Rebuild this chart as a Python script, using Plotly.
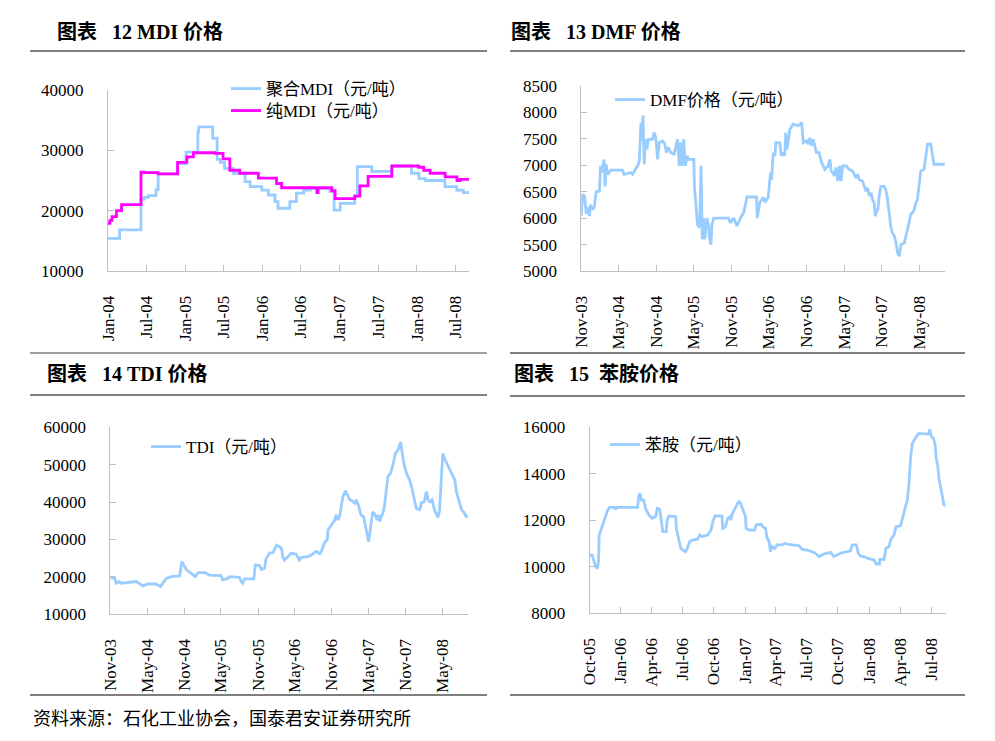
import plotly.graph_objects as go

# ---- data ----
mdi_poly_dates = [
    '2004-01-01', '2004-02-25', '2004-06-05', '2004-06-20', '2004-07-10', '2004-08-15',
    '2004-08-25', '2004-11-25', '2005-01-04', '2005-03-01', '2005-03-05', '2005-05-10',
    '2005-05-31', '2005-06-15', '2005-07-05', '2005-08-15', '2005-10-10', '2005-11-03',
    '2005-12-28', '2006-01-28', '2006-03-01', '2006-03-15', '2006-05-10', '2006-06-10',
    '2006-07-15', '2006-08-15', '2006-11-15', '2006-12-05', '2007-01-03', '2007-03-12',
    '2007-03-25', '2007-06-01', '2007-09-04', '2007-12-06', '2008-01-10', '2008-02-10',
    '2008-05-12', '2008-07-07', '2008-08-07', '2008-09-03',
]
mdi_poly_values = [
    15400, 16800, 21900, 22200, 22500, 23500,
    26100, 27800, 29700, 33100, 33900, 32000,
    28500, 28000, 27000, 26200, 24800, 24000,
    23400, 22600, 21500, 20400, 21500, 22900,
    23400, 23700, 23200, 20100, 21200, 22500,
    27300, 26500, 27400, 26200, 25300, 25000,
    24000, 23400, 23000, 23000,
]

mdi_pure_dates = [
    '2004-01-01', '2004-01-10', '2004-01-20', '2004-02-10', '2004-03-05', '2004-06-05',
    '2004-06-20', '2004-08-25', '2004-11-25', '2005-01-08', '2005-02-08', '2005-05-20',
    '2005-06-28', '2005-07-30', '2005-09-15', '2005-12-12', '2006-03-08', '2006-04-01',
    '2006-09-15', '2006-09-20', '2006-11-24', '2006-12-10', '2007-03-13', '2007-04-06',
    '2007-05-15', '2007-09-04', '2008-01-09', '2008-02-02', '2008-03-03', '2008-05-13',
    '2008-07-08', '2008-07-23', '2008-09-03',
]
mdi_pure_values = [
    17900, 18400, 19000, 20000, 21000, 26400,
    26300, 26100, 28000, 28900, 29600, 29500,
    28600, 26700, 26200, 25400, 24500, 23800,
    23000, 23800, 23300, 22000, 22400, 24100,
    25700, 27400, 27200, 26700, 26200, 25600,
    25000, 25200, 25200,
]

dmf_dates = [
    '2003-11-01', '2003-11-07', '2003-11-17', '2003-11-25', '2003-12-03', '2003-12-11',
    '2003-12-15', '2003-12-27', '2004-01-04', '2004-01-12', '2004-01-28', '2004-02-03',
    '2004-02-09', '2004-02-19', '2004-02-25', '2004-03-01', '2004-03-08', '2004-03-16',
    '2004-03-24', '2004-05-19', '2004-05-27', '2004-06-29', '2004-07-07', '2004-08-01',
    '2004-08-09', '2004-08-17', '2004-08-22', '2004-08-27', '2004-09-02', '2004-09-07',
    '2004-09-15', '2004-09-21', '2004-10-12', '2004-10-20', '2004-10-28', '2004-11-06',
    '2004-11-14', '2004-11-30', '2004-12-11', '2004-12-19', '2004-12-27', '2005-01-09',
    '2005-01-25', '2005-02-11', '2005-02-19', '2005-02-27', '2005-03-05', '2005-03-13',
    '2005-03-21', '2005-03-29', '2005-04-07', '2005-05-01', '2005-05-04', '2005-05-13',
    '2005-05-19', '2005-05-29', '2005-06-05', '2005-06-11', '2005-06-18', '2005-06-23',
    '2005-07-04', '2005-07-12', '2005-07-17', '2005-07-23', '2005-07-28', '2005-08-06',
    '2005-10-17', '2005-10-25', '2005-11-11', '2005-11-27', '2005-12-13', '2005-12-29',
    '2006-01-15', '2006-03-02', '2006-03-05', '2006-03-18', '2006-04-04', '2006-04-12',
    '2006-04-28', '2006-05-02', '2006-05-09', '2006-05-14', '2006-05-22', '2006-05-30',
    '2006-06-04', '2006-06-23', '2006-07-01', '2006-07-09', '2006-07-17', '2006-07-22',
    '2006-07-28', '2006-08-11', '2006-08-27', '2006-09-21', '2006-10-07', '2006-10-15',
    '2006-10-31', '2006-11-08', '2006-11-16', '2006-11-24', '2006-12-02', '2006-12-10',
    '2006-12-18', '2006-12-31', '2007-01-12', '2007-01-20', '2007-01-28', '2007-02-13',
    '2007-02-21', '2007-02-28', '2007-03-07', '2007-03-15', '2007-03-23', '2007-04-01',
    '2007-04-09', '2007-04-17', '2007-04-25', '2007-05-11', '2007-05-27', '2007-06-12',
    '2007-06-28', '2007-07-06', '2007-07-14', '2007-07-30', '2007-08-08', '2007-08-16',
    '2007-08-24', '2007-09-01', '2007-09-09', '2007-09-17', '2007-09-25', '2007-09-30',
    '2007-10-06', '2007-10-13', '2007-10-19', '2007-10-27', '2007-11-12', '2007-11-20',
    '2007-11-28', '2007-12-06', '2007-12-14', '2007-12-22', '2008-01-01', '2008-01-09',
    '2008-01-17', '2008-01-25', '2008-02-02', '2008-02-18', '2008-02-26', '2008-03-04',
    '2008-03-12', '2008-03-20', '2008-03-28', '2008-04-06', '2008-04-14', '2008-04-22',
    '2008-04-30', '2008-05-08', '2008-05-24', '2008-06-02', '2008-06-10', '2008-06-26',
    '2008-07-03', '2008-07-11', '2008-09-02',
]
dmf_values = [
    6040, 6450, 6420, 6080, 6200, 6040,
    6250, 6160, 6220, 6500, 6510, 6990,
    6870, 7110, 6600, 7020, 6830, 6860,
    6910, 6910, 6830, 6860, 6830, 6990,
    7080, 7810, 7460, 7940, 7020, 7490,
    7300, 7490, 7490, 7620, 7520, 7110,
    7430, 7460, 7400, 7240, 7340, 7240,
    7210, 7490, 6990, 7430, 6990, 7490,
    6990, 7180, 7110, 7110, 6600, 6160,
    5880, 5820, 6990, 5600, 6000, 5600,
    6000, 5850, 5600, 5500, 5880, 6000,
    6000, 5910, 6000, 5850, 6000, 6100,
    6400, 6400, 6000, 6300, 6390, 6300,
    6400, 6580, 6860, 6730, 7240, 7180,
    7430, 7420, 7180, 7240, 7180, 7620,
    7300, 7680, 7780, 7750, 7810, 7430,
    7460, 7400, 7520, 7370, 7490, 7370,
    7240, 7240, 7050, 6990, 6920, 6990,
    7110, 6890, 6860, 6800, 6960, 6700,
    6990, 6700, 6990, 6990, 6920, 6890,
    6760, 6830, 6730, 6700, 6600, 6510,
    6570, 6420, 6480, 6350, 6290, 6040,
    6130, 6160, 6420, 6600, 6600, 6540,
    6380, 6040, 5850, 5720, 5660, 5530,
    5340, 5280, 5500, 5530, 5660, 5720,
    5910, 6070, 6100, 6160, 6290, 6350,
    6600, 6890, 6920, 7180, 7400, 7400,
    7180, 7020, 7020,
]

tdi_dates = [
    '2003-11-01', '2003-11-22', '2003-12-01', '2003-12-16', '2003-12-25', '2004-02-21',
    '2004-03-08', '2004-04-10', '2004-05-05', '2004-06-15', '2004-07-06', '2004-08-04',
    '2004-08-29', '2004-10-09', '2004-10-20', '2004-11-12', '2004-12-06', '2004-12-26',
    '2005-01-08', '2005-02-10', '2005-03-05', '2005-05-02', '2005-05-10', '2005-06-04',
    '2005-06-12', '2005-08-01', '2005-08-09', '2005-08-17', '2005-08-26', '2005-10-11',
    '2005-10-18', '2005-11-09', '2005-11-17', '2005-12-03', '2005-12-11', '2005-12-28',
    '2006-01-14', '2006-01-31', '2006-02-16', '2006-02-25', '2006-03-03', '2006-03-11',
    '2006-03-28', '2006-04-13', '2006-05-08', '2006-05-24', '2006-06-02', '2006-07-05',
    '2006-07-21', '2006-08-16', '2006-09-02', '2006-09-10', '2006-09-26', '2006-10-09',
    '2006-10-13', '2006-10-29', '2006-11-15', '2006-11-23', '2006-12-01', '2006-12-09',
    '2006-12-17', '2006-12-26', '2007-01-07', '2007-01-17', '2007-01-29', '2007-02-09',
    '2007-02-22', '2007-03-01', '2007-03-12', '2007-03-25', '2007-04-08', '2007-04-14',
    '2007-04-24', '2007-05-02', '2007-05-14', '2007-05-22', '2007-06-03', '2007-06-13',
    '2007-06-20', '2007-06-25', '2007-07-03', '2007-07-11', '2007-07-19', '2007-07-27',
    '2007-08-05', '2007-08-18', '2007-08-30', '2007-09-11', '2007-09-24', '2007-10-07',
    '2007-10-14', '2007-10-23', '2007-11-05', '2007-11-21', '2007-12-02', '2007-12-12',
    '2007-12-24', '2008-01-10', '2008-01-18', '2008-02-01', '2008-02-12', '2008-02-20',
    '2008-02-28', '2008-03-10', '2008-03-15', '2008-03-23', '2008-04-09', '2008-04-17',
    '2008-04-25', '2008-05-03', '2008-05-11', '2008-05-19', '2008-05-28', '2008-06-14',
    '2008-07-01', '2008-07-09', '2008-07-25', '2008-08-03', '2008-08-16', '2008-08-28',
    '2008-09-03',
]
tdi_values = [
    19700, 19700, 18300, 18700, 18300, 18500,
    18750, 17600, 18100, 18100, 17400, 19600,
    20050, 20250, 24100, 21900, 21000, 20050,
    21150, 21150, 20500, 20350, 19200, 19600,
    20050, 19900, 18750, 18300, 19450, 19450,
    23200, 23000, 22000, 22300, 25000, 26300,
    26500, 28500, 28000, 27600, 25400, 24500,
    25400, 26300, 26100, 24500, 25200, 25400,
    25800, 26800, 26200, 26800, 29200, 29900,
    32500, 33900, 35200, 36600, 35200, 36100,
    38800, 41500, 43000, 41900, 40600, 40400,
    39700, 40600, 39300, 36600, 36000, 34300,
    31700, 29400, 34300, 37400, 36600, 35200,
    36600, 34800, 36100, 37000, 38800, 42800,
    46800, 47700, 49900, 53000, 53900, 56100,
    53900, 50400, 47700, 45900, 43700, 41000,
    38300, 38000, 39800, 40100, 42800, 40600,
    40100, 40600, 39300, 37900, 35900, 37900,
    45900, 53000, 51700, 50800, 49900, 48100,
    45900, 42800, 40100, 38000, 37200, 35900,
    36600,
]

aniline_dates = [
    '2005-10-01', '2005-10-08', '2005-10-14', '2005-10-19', '2005-10-24', '2005-10-27',
    '2005-10-29', '2005-11-04', '2005-11-14', '2005-11-23', '2005-11-28', '2005-12-13',
    '2005-12-16', '2005-12-20', '2006-02-19', '2006-02-22', '2006-02-26', '2006-03-02',
    '2006-03-09', '2006-03-14', '2006-03-24', '2006-04-03', '2006-04-13', '2006-04-18',
    '2006-04-25', '2006-04-30', '2006-05-04', '2006-05-14', '2006-05-17', '2006-05-22',
    '2006-06-11', '2006-06-13', '2006-06-19', '2006-06-26', '2006-07-02', '2006-07-10',
    '2006-07-15', '2006-07-22', '2006-07-30', '2006-08-14', '2006-08-21', '2006-08-27',
    '2006-09-13', '2006-09-23', '2006-09-28', '2006-10-05', '2006-10-25', '2006-10-27',
    '2006-11-04', '2006-11-11', '2006-11-17', '2006-11-20', '2006-11-25', '2006-11-30',
    '2006-12-07', '2006-12-13', '2006-12-18', '2006-12-23', '2006-12-27', '2007-01-02',
    '2007-01-04', '2007-01-14', '2007-01-29', '2007-02-03', '2007-02-17', '2007-02-22',
    '2007-03-02', '2007-03-07', '2007-03-12', '2007-03-17', '2007-03-21', '2007-03-29',
    '2007-04-05', '2007-04-20', '2007-04-28', '2007-05-04', '2007-05-19', '2007-06-08',
    '2007-06-18', '2007-07-02', '2007-07-17', '2007-07-27', '2007-08-06', '2007-08-16',
    '2007-08-26', '2007-09-10', '2007-09-19', '2007-10-04', '2007-10-14', '2007-10-28',
    '2007-11-07', '2007-11-12', '2007-11-24', '2007-11-30', '2007-12-07', '2007-12-17',
    '2007-12-29', '2008-01-16', '2008-01-21', '2008-01-31', '2008-02-01', '2008-02-14',
    '2008-02-19', '2008-02-28', '2008-03-04', '2008-03-14', '2008-03-20', '2008-04-02',
    '2008-04-09', '2008-04-17', '2008-04-22', '2008-04-27', '2008-05-02', '2008-05-07',
    '2008-05-12', '2008-05-20', '2008-05-26', '2008-06-23', '2008-06-27', '2008-07-02',
    '2008-07-08', '2008-07-13', '2008-07-16', '2008-07-21', '2008-07-24', '2008-07-29',
    '2008-08-03', '2008-08-08', '2008-08-13',
]
aniline_values = [
    10500, 10500, 10220, 10000, 9930, 10290,
    11370, 11650, 12010, 12440, 12560, 12560,
    12470, 12560, 12560, 13020, 13160, 12870,
    12870, 12520, 12230, 12090, 12160, 12520,
    12470, 12010, 11510, 11510, 12010, 12190,
    12160, 11650, 11300, 10790, 10720, 10650,
    10790, 11080, 11150, 11190, 11370, 11300,
    11370, 11580, 11940, 12190, 12190, 11650,
    11720, 12090, 12160, 12010, 12300, 12440,
    12620, 12800, 12760, 12560, 12470, 12160,
    11650, 11580, 11580, 11800, 11840, 11720,
    11650, 11230, 11120, 10650, 10870, 10790,
    10940, 10940, 11010, 10980, 10940, 10910,
    10750, 10720, 10650, 10580, 10440, 10510,
    10580, 10610, 10440, 10550, 10610, 10650,
    10690, 10940, 10940, 10580, 10460, 10440,
    10360, 10290, 10120, 10120, 10320, 10320,
    10790, 10870, 11150, 11370, 11730, 11760,
    12160, 12660, 12870, 13590, 14740, 15310,
    15450, 15630, 15740, 15710, 15910, 15600,
    15530, 15240, 14670, 14310, 13810, 13450,
    12950, 12660, 12620,
]

mdi_ticks = ['2004-01-01', '2004-07-01', '2005-01-01', '2005-07-01', '2006-01-01',
             '2006-07-01', '2007-01-01', '2007-07-01', '2008-01-01', '2008-07-01']
mdi_ticktext = ['Jan-04', 'Jul-04', 'Jan-05', 'Jul-05', 'Jan-06',
                'Jul-06', 'Jan-07', 'Jul-07', 'Jan-08', 'Jul-08']
novmay_ticks = ['2003-11-01', '2004-05-01', '2004-11-01', '2005-05-01', '2005-11-01',
                '2006-05-01', '2006-11-01', '2007-05-01', '2007-11-01', '2008-05-01']
novmay_ticktext = ['Nov-03', 'May-04', 'Nov-04', 'May-05', 'Nov-05',
                   'May-06', 'Nov-06', 'May-07', 'Nov-07', 'May-08']
aniline_ticks = ['2005-10-01', '2006-01-01', '2006-04-01', '2006-07-01', '2006-10-01',
                 '2007-01-01', '2007-04-01', '2007-07-01', '2007-10-01', '2008-01-01',
                 '2008-04-01', '2008-07-01']
aniline_ticktext = ['Oct-05', 'Jan-06', 'Apr-06', 'Jul-06', 'Oct-06', 'Jan-07',
                    'Apr-07', 'Jul-07', 'Oct-07', 'Jan-08', 'Apr-08', 'Jul-08']

# the page body keeps its default 8px margin, so the figure is drawn that much
# smaller and every screen position below is shifted by it
OFF = 8
W, H = 995 - OFF, 741 - OFF
FONT = 'Liberation Serif, Noto Sans CJK SC, serif'
CJK = 'Noto Sans CJK SC, Liberation Serif'
BLUE = '#99CCFF'
MAGENTA = '#FF00FF'
AXIS = '#BFBFBF'
LW = 2.8


def px(x):
    return (x - OFF) / W


def py(y):
    return 1 - (y - OFF) / H


fig = go.Figure()

fig.add_trace(go.Scatter(x=mdi_poly_dates, y=mdi_poly_values, name='聚合MDI（元/吨）',
                         mode='lines', line=dict(color=BLUE, width=LW, shape='hv'),
                         xaxis='x', yaxis='y', legend='legend'))
fig.add_trace(go.Scatter(x=mdi_pure_dates, y=mdi_pure_values, name='纯MDI（元/吨）',
                         mode='lines', line=dict(color=MAGENTA, width=LW, shape='hv'),
                         xaxis='x', yaxis='y', legend='legend5'))
fig.add_trace(go.Scatter(x=dmf_dates, y=dmf_values, name='DMF价格（元/吨）',
                         mode='lines', line=dict(color=BLUE, width=LW),
                         xaxis='x2', yaxis='y2', legend='legend2'))
fig.add_trace(go.Scatter(x=tdi_dates, y=tdi_values, name='TDI（元/吨）',
                         mode='lines', line=dict(color=BLUE, width=LW),
                         xaxis='x3', yaxis='y3', legend='legend3'))
fig.add_trace(go.Scatter(x=aniline_dates, y=aniline_values, name='苯胺（元/吨）',
                         mode='lines', line=dict(color=BLUE, width=LW),
                         xaxis='x4', yaxis='y4', legend='legend4'))

# plot areas in screen pixels: (left, right, top, bottom)
panels = [
    (108, 469, 90, 271, ['2004-01-01', '2008-09-03'], mdi_ticks, mdi_ticktext, [10000, 40000], 10000),
    (581.3, 945, 86, 271, ['2003-11-01', '2008-09-03'], novmay_ticks, novmay_ticktext, [5000, 8500], 500),
    (110.3, 467.7, 427.3, 614.3, ['2003-11-01', '2008-09-03'], novmay_ticks, novmay_ticktext, [10000, 60000], 10000),
    (589.7, 945.7, 427.3, 613.3, ['2005-10-01', '2008-08-13'], aniline_ticks, aniline_ticktext, [8000, 16000], 2000),
]

layout = {}
for i, (l, r, t, b, xr, tv, tt, yr, dt) in enumerate(panels, start=1):
    sfx = '' if i == 1 else str(i)
    layout['xaxis' + sfx] = dict(
        domain=[px(l), px(r)], anchor='y' + sfx, type='date', range=xr,
        tickvals=tv, ticktext=tt, tickangle=-90, ticks='inside', ticklen=6,
        tickcolor=AXIS, showline=True, linecolor=AXIS, linewidth=1, showgrid=False,
        zeroline=False, ticklabelstandoff=17, automargin=False,
        tickfont=dict(family=FONT, size=17, color='#000000'),
    )
    layout['yaxis' + sfx] = dict(
        domain=[py(b), py(t)], anchor='x' + sfx, range=yr, dtick=dt, tickformat='d',
        ticks='inside', ticklen=6, tickcolor=AXIS, showline=True, linecolor=AXIS,
        linewidth=1, showgrid=False, zeroline=False, ticklabelstandoff=20,
        automargin=False, tickfont=dict(family=FONT, size=17, color='#000000'),
    )

legend_style = dict(bgcolor='rgba(0,0,0,0)', xanchor='left', yanchor='top',
                    xref='container', yref='container',
                    font=dict(family=FONT, size=17, color='#000000'),
                    tracegroupgap=0, itemwidth=30)
layout['legend'] = dict(x=px(226), y=py(71), **legend_style)
layout['legend5'] = dict(x=px(226), y=py(93), **legend_style)
layout['legend2'] = dict(x=px(610), y=py(82), **legend_style)
layout['legend3'] = dict(x=px(146), y=py(429), **legend_style)
layout['legend4'] = dict(x=px(605), y=py(427), **legend_style)

fig.update_layout(
    width=W, height=H, margin=dict(l=0, r=0, t=0, b=0, pad=0, autoexpand=False),
    paper_bgcolor='white', plot_bgcolor='white', showlegend=True,
    **layout,
)

# figure titles
titles = [
    (55, 31.7, '<b>图表   12 MDI 价格</b>'),
    (509, 31.7, '<b>图表   13 DMF 价格</b>'),
    (45, 374, '<b>图表   14 TDI 价格</b>'),
    (512, 374, '<b>图表   15  苯胺价格</b>'),
]
for x, y, text in titles:
    fig.add_annotation(x=px(x), y=py(y), xref='paper', yref='paper', text=text,
                       showarrow=False, xanchor='left', yanchor='middle',
                       font=dict(family=FONT, size=20, color='#000000'))

fig.add_annotation(x=px(31), y=py(717), xref='paper', yref='paper',
                   text='资料来源：石化工业协会，国泰君安证券研究所', showarrow=False,
                   xanchor='left', yanchor='middle',
                   font=dict(family=CJK, size=18, color='#000000'))

# rules above and below the titles
rules = [
    (30, 487, 51, '#7F7F7F', 2),
    (510, 965, 51, '#7F7F7F', 2),
    (30, 487, 353, '#7F7F7F', 1.5),
    (30, 487, 395, '#000000', 1),
    (30, 487, 695, '#000000', 1.2),
    (510, 965, 353, '#000000', 1.2),
    (510, 965, 396, '#7F7F7F', 2),
    (510, 965, 695, '#000000', 1.2),
]
for x0, x1, y, color, w in rules:
    fig.add_shape(type='line', xref='paper', yref='paper', x0=px(x0), x1=px(x1),
                  y0=py(y), y1=py(y), line=dict(color=color, width=w))

fig.write_html('out.html')
